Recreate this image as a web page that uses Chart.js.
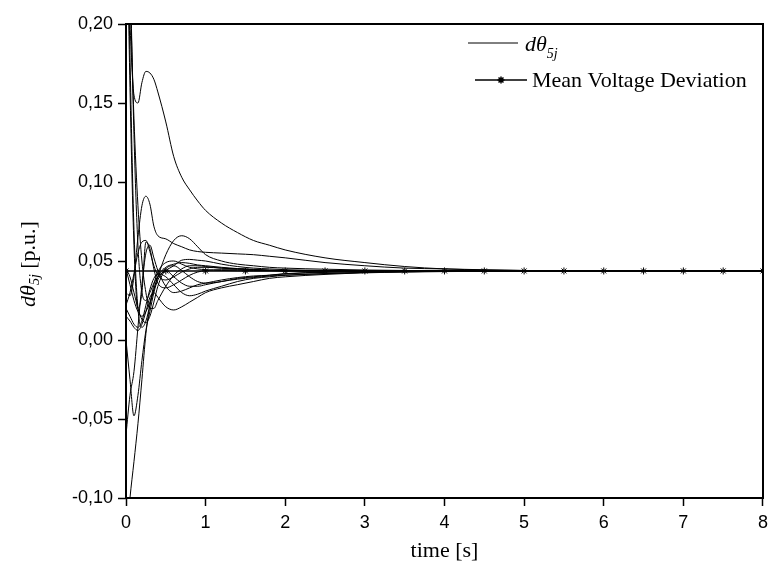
<!DOCTYPE html>
<html>
<head>
<meta charset="utf-8">
<script src="https://cdn.jsdelivr.net/npm/chart.js@4/dist/chart.umd.min.js"></script>
<style>
  html, body { margin: 0; padding: 0; background: #fff; }
  #wrap { width: 774px; height: 575px; position: relative; }
</style>
</head>
<body>
<div id="wrap"><canvas id="c" width="774" height="575"></canvas></div>
<script>
// ---- time grid (s) shared by the dθ5j curves ----
const timeGrid = [0, 0.05, 0.1, 0.15, 0.2, 0.25, 0.3, 0.35, 0.4, 0.5, 0.6, 0.7, 0.8, 0.9, 1.0, 1.2, 1.4, 1.6, 1.8, 2.0, 2.5, 3.0, 3.5, 4.0, 5.0, 6.0, 8.0];

// ---- dθ5j curves (p.u.) ----
const curveA  = [0.27,0.20,0.155,0.150,0.163,0.170,0.169,0.165,0.157,0.138,0.116,0.103,0.095,0.088,0.082,0.074,0.068,0.063,0.060,0.057,0.052,0.049,0.0465,0.045,0.044,0.0438,0.0437];
const curveB  = [0.03,0.028,0.040,0.065,0.085,0.091,0.086,0.072,0.066,0.064,0.061,0.059,0.057,0.056,0.0555,0.055,0.0545,0.054,0.053,0.052,0.049,0.047,0.0455,0.045,0.044,0.0438,0.0437];
const curveC  = [0.045,0.035,0.025,0.018,0.015,0.018,0.024,0.032,0.040,0.054,0.063,0.066,0.064,0.059,0.054,0.050,0.048,0.047,0.046,0.0455,0.0448,0.0443,0.044,0.0438,0.0437,0.0437,0.0437];
const curveD  = [0.30,0.16,0.06,0.02,0.03,0.062,0.058,0.045,0.036,0.033,0.035,0.038,0.041,0.043,0.044,0.0445,0.0445,0.044,0.044,0.0438,0.0437,0.0437,0.0437,0.0437,0.0437,0.0437,0.0437];
const curveE1 = [0.32,0.18,0.07,0.02,0.008,0.012,0.022,0.032,0.040,0.046,0.048,0.049,0.0485,0.0475,0.047,0.046,0.0452,0.0447,0.0443,0.044,0.0438,0.0437,0.0437,0.0437,0.0437,0.0437,0.0437];
const curveE2 = [0.35,0.24,0.13,0.06,0.03,0.025,0.03,0.036,0.040,0.044,0.047,0.0505,0.051,0.0505,0.050,0.048,0.0465,0.0455,0.045,0.0445,0.044,0.0438,0.0437,0.0437,0.0437,0.0437,0.0437];
const curveE3 = [0.26,0.22,0.14,0.085,0.05,0.03,0.02,0.02,0.025,0.034,0.041,0.045,0.047,0.047,0.0465,0.0455,0.045,0.0445,0.044,0.0438,0.0437,0.0437,0.0437,0.0437,0.0437,0.0437,0.0437];
const curveL1 = [-0.13,-0.10,-0.077,-0.053,-0.025,0.004,0.022,0.035,0.043,0.049,0.050,0.048,0.046,0.045,0.0445,0.044,0.0438,0.0437,0.0437,0.0437,0.0437,0.0437,0.0437,0.0437,0.0437,0.0437,0.0437];
const curveL2 = [-0.06,-0.035,-0.02,0.008,0.035,0.055,0.060,0.052,0.044,0.034,0.030,0.031,0.033,0.035,0.036,0.038,0.0395,0.0405,0.041,0.0418,0.0428,0.0432,0.0435,0.0436,0.0437,0.0437,0.0437];
const curveL3 = [0.0,-0.025,-0.048,-0.035,-0.013,0.006,0.018,0.030,0.038,0.044,0.040,0.036,0.034,0.034,0.035,0.037,0.0385,0.0395,0.0405,0.041,0.042,0.0428,0.0432,0.0435,0.0437,0.0437,0.0437];
const curveF1 = [0.02,0.015,0.01,0.008,0.012,0.022,0.032,0.039,0.042,0.040,0.035,0.030,0.028,0.029,0.031,0.034,0.037,0.039,0.040,0.041,0.042,0.0428,0.0432,0.0435,0.0437,0.0437,0.0437];
const curveF2 = [0.015,0.012,0.008,0.006,0.010,0.018,0.027,0.030,0.027,0.021,0.019,0.021,0.024,0.027,0.030,0.033,0.035,0.037,0.039,0.040,0.0415,0.0425,0.043,0.0433,0.0436,0.0437,0.0437];
const curveF3 = [0.045,0.040,0.030,0.020,0.013,0.011,0.015,0.024,0.034,0.045,0.047,0.044,0.040,0.037,0.036,0.037,0.039,0.040,0.041,0.042,0.043,0.0433,0.0435,0.0436,0.0437,0.0437,0.0437];
const curveG  = [0.022,0.030,0.042,0.055,0.062,0.063,0.056,0.047,0.041,0.038,0.040,0.043,0.045,0.046,0.046,0.0455,0.045,0.0445,0.044,0.0438,0.0437,0.0437,0.0437,0.0437,0.0437,0.0437,0.0437];

// ---- mean voltage deviation ----
const meanTime  = [0, 0.5, 1, 1.5, 2, 2.5, 3, 3.5, 4, 4.5, 5, 5.5, 6, 6.5, 7, 7.5, 8];
const meanValue = [0.0437,0.0437,0.0437,0.0437,0.0437,0.0437,0.0437,0.0437,0.0437,0.0437,0.0437,0.0437,0.0437,0.0437,0.0437,0.0437,0.0437];

// ---- axis ticks ----
const xTicks = [0, 1, 2, 3, 4, 5, 6, 7, 8];
const yTicks = [-0.10, -0.05, 0.00, 0.05, 0.10, 0.15, 0.20];

const curves = [curveA, curveB, curveC, curveD, curveE1, curveE2, curveE3, curveL1, curveL2, curveL3, curveF1, curveF2, curveF3, curveG];

const datasets = curves.map(c => ({
  data: timeGrid.map((t, i) => ({ x: t, y: c[i] })),
  borderColor: '#000',
  borderWidth: 1,
  pointRadius: 0,
  fill: false,
  cubicInterpolationMode: 'monotone'
}));
datasets.push({
  data: meanTime.map((t, i) => ({ x: t, y: meanValue[i] })),
  borderColor: '#000',
  backgroundColor: '#000',
  borderWidth: 1.5,
  pointStyle: 'star',
  pointRadius: 3.5,
  pointBorderWidth: 1,
  fill: false
});

const SERIF = '"Liberation Serif", "Times New Roman", serif';
const SANS = '"Liberation Sans", Arial, sans-serif';

const decor = {
  id: 'decor',
  afterDatasetsDraw(chart) {
    const { ctx, chartArea: a } = chart;
    ctx.save();
    ctx.strokeStyle = '#000';
    ctx.lineWidth = 2;
    ctx.strokeRect(a.left, a.top, a.right - a.left, a.bottom - a.top);
    ctx.restore();
  },
  afterDraw(chart) {
    const { ctx, chartArea: a } = chart;
    ctx.save();
    ctx.fillStyle = '#000';
    ctx.strokeStyle = '#000';

    // legend row 1
    ctx.lineWidth = 1;
    ctx.beginPath(); ctx.moveTo(468, 43); ctx.lineTo(518, 43); ctx.stroke();
    ctx.textBaseline = 'alphabetic';
    ctx.textAlign = 'left';
    ctx.font = 'italic 22px ' + SERIF;
    ctx.fillText('dθ', 525, 51);
    const w1 = ctx.measureText('dθ').width;
    ctx.font = 'italic 14px ' + SERIF;
    ctx.fillText('5j', 525 + w1, 58);

    // legend row 2
    ctx.lineWidth = 1.5;
    ctx.beginPath(); ctx.moveTo(475, 80); ctx.lineTo(527, 80); ctx.stroke();
    Chart.helpers.drawPoint(ctx, { pointStyle: 'star', radius: 3.5, borderWidth: 1 }, 501, 80);
    ctx.font = '22px ' + SERIF;
    ctx.fillText('Mean Voltage Deviation', 532, 87);

    // x axis title
    ctx.textAlign = 'center';
    ctx.textBaseline = 'middle';
    ctx.font = '22px ' + SERIF;
    ctx.fillText('time [s]', (a.left + a.right) / 2, 551);

    // y axis title (rotated)
    ctx.translate(29, 264);
    ctx.rotate(-Math.PI / 2);
    const parts = [
      { t: 'dθ', f: 'italic 22px ' + SERIF, dy: 0 },
      { t: '5j', f: 'italic 14px ' + SERIF, dy: 6 },
      { t: ' [p.u.]', f: '22px ' + SERIF, dy: 0 }
    ];
    let total = 0;
    parts.forEach(p => { ctx.font = p.f; p.w = ctx.measureText(p.t).width; total += p.w; });
    let x = -total / 2;
    ctx.textAlign = 'left';
    parts.forEach(p => { ctx.font = p.f; ctx.fillText(p.t, x, p.dy); x += p.w; });
    ctx.restore();
  }
};

Chart.defaults.color = '#000';

new Chart(document.getElementById('c'), {
  type: 'line',
  data: { datasets },
  options: {
    responsive: false,
    animation: false,
    layout: { padding: { left: 0, top: 24, right: 10, bottom: 0 } },
    plugins: { legend: { display: false }, tooltip: { enabled: false } },
    scales: {
      x: {
        type: 'linear',
        min: 0, max: 8,
        afterFit: s => { s.height = 77; },
        afterBuildTicks: s => { s.ticks = xTicks.map(v => ({ value: v })); },
        border: { display: false },
        grid: { drawOnChartArea: false, drawTicks: true, tickLength: 8, tickWidth: 1.5, tickColor: '#000', color: '#000' },
        ticks: { autoSkip: false, maxRotation: 0, padding: 6, font: { family: SANS, size: 18 }, color: '#000',
                 callback: v => String(v) }
      },
      y: {
        type: 'linear',
        min: -0.1, max: 0.2,
        afterFit: s => { s.width = 126; },
        afterBuildTicks: s => { s.ticks = yTicks.map(v => ({ value: v })); },
        border: { display: false },
        grid: { drawOnChartArea: false, drawTicks: true, tickLength: 8, tickWidth: 1.5, tickColor: '#000', color: '#000' },
        ticks: { autoSkip: false, padding: 5, font: { family: SANS, size: 18 }, color: '#000',
                 callback: v => (Math.round(v * 100) / 100).toFixed(2).replace('.', ',') }
      }
    }
  },
  plugins: [decor]
});
</script>
</body>
</html>
